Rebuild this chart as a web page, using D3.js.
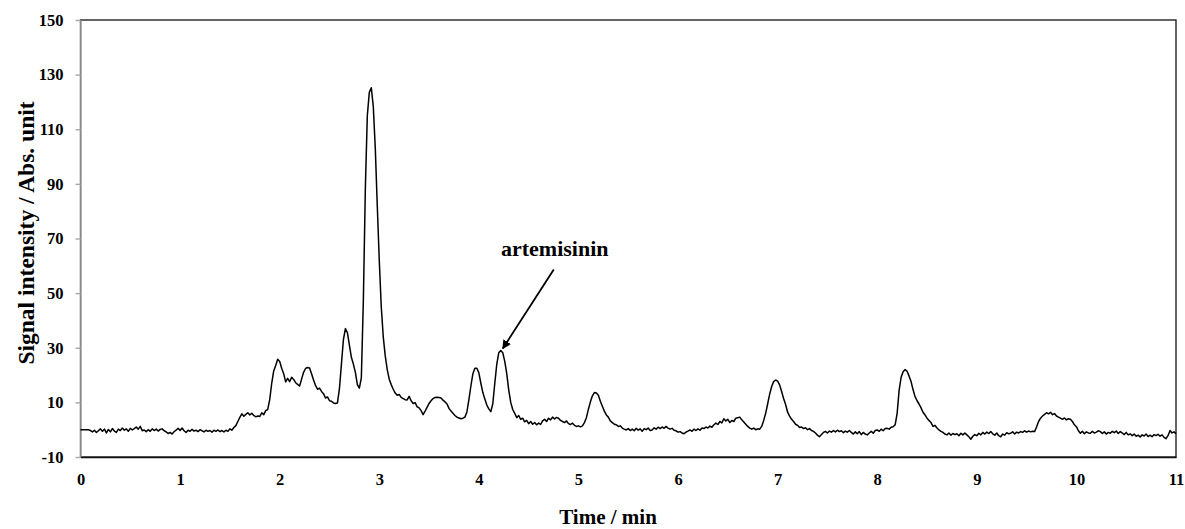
<!DOCTYPE html>
<html>
<head>
<meta charset="utf-8">
<script src="https://cdn.jsdelivr.net/npm/d3@7"></script>
<style>
  body { margin: 0; background: #fff; }
  svg { display: block; }
  text { font-family: "Liberation Serif", "Times New Roman", serif; font-weight: bold; }
</style>
</head>
<body>
<div id="chart"><svg width="1185" height="529"></svg></div>
<script>
// detector trace, one reading every 0.02 min from 0 to 11 min
const SAMPLE_STEP = 0.02;
const signal = [
  /* 0.00 */ 0, 0, 0, 0, 0, -0.3, -0.8, -0.2, -1.0, -0.4,
  /* 0.20 */ 0.3, -0.6, 0.2, -1.2, 0.1, -0.8, 0.4, -0.5, -1.0, 0.2,
  /* 0.40 */ -0.3, 0.6, -0.2, 0.3, -0.6, 0.5, -0.1, 0.4, 1.0, 0.2,
  /* 0.60 */ 1.2, -0.4, -0.1, -0.7, 0.0, -0.6, 0.3, -0.3, 0.2, -0.5,
  /* 0.80 */ 0.1, 0.3, -0.4, -0.8, -1.4, -1.0, -1.6, -0.7, -0.2, 0.5,
  /* 1.00 */ -0.3, 0.6, -0.4, -1.0, -0.2, -0.6, 0.1, -0.5, -0.2, -0.7,
  /* 1.20 */ 0.0, -0.4, -0.8, -0.2, -0.6, -0.3, -0.9, -0.2, -0.6, -0.1,
  /* 1.40 */ -0.7, -0.3, -0.8, -0.2, -0.6, 0.3, -0.2, 0.8, 1.5, 3.0,
  /* 1.60 */ 4.5, 5.8, 4.9, 5.6, 6.2, 5.4, 6.0, 5.2, 4.7, 5.0,
  /* 1.80 */ 4.8, 6.2, 5.5, 7.0, 7.4, 11.0, 17.0, 21.5, 23.5, 25.8,
  /* 2.00 */ 25.0, 22.5, 20.5, 17.5, 18.8, 17.6, 19.2, 18.4, 17.2, 16.6,
  /* 2.20 */ 16.0, 18.5, 21.0, 22.4, 22.8, 22.6, 20.5, 18.2, 16.2, 14.8,
  /* 2.40 */ 15.2, 14.0, 13.2, 11.6, 12.0, 10.6, 10.4, 9.8, 9.6, 9.8,
  /* 2.60 */ 15.0, 24.0, 33.0, 37.0, 35.5, 31.0, 26.5, 24.0, 21.0, 16.5,
  /* 2.80 */ 15.2, 19.0, 47.0, 88.0, 115.0, 123.5, 125.2, 118.3, 103.0, 82.0,
  /* 3.00 */ 62.0, 45.0, 34.0, 27.0, 22.0, 18.5, 16.5, 14.8, 13.4, 12.6,
  /* 3.20 */ 12.9, 11.8, 11.4, 11.0, 10.9, 12.2, 10.6, 9.6, 9.9, 8.4,
  /* 3.40 */ 8.0, 7.0, 5.5, 6.8, 8.2, 9.6, 10.6, 11.4, 11.8, 11.9,
  /* 3.60 */ 11.8, 11.6, 10.8, 10.2, 9.4, 7.8, 6.8, 6.0, 5.2, 4.6,
  /* 3.80 */ 4.3, 4.0, 4.2, 4.6, 6.5, 11.0, 16.0, 20.5, 22.5, 22.5,
  /* 4.00 */ 20.8, 17.0, 13.6, 11.2, 9.0, 7.6, 6.6, 9.5, 17.0, 24.0,
  /* 4.20 */ 28.2, 29.0, 28.2, 25.0, 20.5, 14.5, 10.0, 7.4, 6.0, 4.4,
  /* 4.40 */ 5.2, 3.8, 4.2, 2.9, 3.4, 2.2, 3.0, 2.0, 2.6, 1.8,
  /* 4.60 */ 2.4, 1.9, 3.2, 3.8, 3.0, 4.2, 3.6, 4.6, 3.9, 4.5,
  /* 4.80 */ 4.2, 3.4, 3.0, 2.6, 3.2, 2.2, 1.9, 2.4, 1.6, 1.2,
  /* 5.00 */ 1.4, 1.0, 1.4, 2.6, 4.4, 7.5, 10.2, 12.4, 13.6, 13.4,
  /* 5.20 */ 12.6, 10.4, 8.6, 6.8, 5.4, 4.6, 3.2, 2.6, 2.0, 1.8,
  /* 5.40 */ 1.2, 1.4, 0.6, 0.2, -0.1, 0.4, -0.3, 0.2, -0.4, 0.5,
  /* 5.60 */ -0.2, 0.3, -0.6, 0.4, 0.0, 0.6, -0.3, -0.1, 0.7, 0.2,
  /* 5.80 */ 0.9, 0.4, 1.0, 0.5, 1.2, 0.6, 0.2, 0.5, -0.2, -0.4,
  /* 6.00 */ -0.9, -0.7, -1.2, -1.5, -0.9, -0.5, -0.1, -0.6, 0.2, -0.3,
  /* 6.20 */ 0.3, -0.2, 0.6, 0.4, 1.0, 0.6, 1.3, 0.9, 1.8, 2.4,
  /* 6.40 */ 1.9, 3.0, 2.5, 4.0, 3.2, 3.8, 2.6, 3.4, 3.0, 4.2,
  /* 6.60 */ 4.4, 4.6, 3.6, 2.8, 2.0, 1.2, 0.6, 0.2, 0.6, 0.0,
  /* 6.80 */ 0.3, 0.2, 1.2, 3.4, 6.0, 9.5, 13.0, 15.8, 17.6, 18.2,
  /* 7.00 */ 17.8, 16.4, 14.0, 11.4, 9.2, 6.4, 5.0, 3.8, 3.0, 2.0,
  /* 7.20 */ 1.6, 0.8, 1.0, 0.4, 0.7, 0.0, 0.4, -0.3, -0.6, -1.2,
  /* 7.40 */ -2.0, -2.6, -1.8, -1.0, -0.6, -1.2, -0.5, -0.9, -0.3, -0.8,
  /* 7.60 */ -0.2, -0.7, -0.4, -1.1, -0.5, -0.9, -0.3, -1.0, -1.6, -0.8,
  /* 7.80 */ -1.5, -0.7, -1.8, -1.0, -1.6, -1.9, -1.2, -0.6, -1.3, -0.3,
  /* 8.00 */ -0.1, -0.6, 0.2, -0.4, 0.4, 0.5, 0.2, 0.9, 1.1, 1.8,
  /* 8.20 */ 6.0, 14.5, 19.2, 21.2, 22.0, 21.4, 19.6, 17.6, 14.6, 12.1,
  /* 8.40 */ 10.6, 9.4, 8.0, 6.4, 5.4, 4.2, 3.4, 2.6, 1.2, 1.6,
  /* 8.60 */ 0.6, -0.1, -0.6, -1.0, -1.6, -1.9, -1.2, -2.0, -1.4, -1.8,
  /* 8.80 */ -1.5, -2.2, -1.3, -1.9, -1.2, -1.9, -2.6, -3.5, -2.4, -1.8,
  /* 9.00 */ -2.2, -1.3, -1.9, -1.0, -1.6, -0.9, -1.4, -0.7, -1.5, -2.0,
  /* 9.20 */ -1.2, -2.2, -2.6, -1.6, -2.0, -1.1, -1.5, -1.3, -0.8, -1.6,
  /* 9.40 */ -0.9, -1.2, -0.7, -1.0, -0.4, -0.9, -0.5, -0.8, -0.6, -0.7,
  /* 9.60 */ 1.0, 3.0, 4.2, 5.0, 5.6, 6.2, 5.8, 6.4, 5.5, 5.9,
  /* 9.80 */ 5.0, 4.6, 4.2, 3.8, 4.3, 3.6, 4.0, 3.8, 3.0, 1.8,
  /* 10.00 */ 1.1, -0.4, -1.3, -0.6, -1.5, -0.8, -1.2, -1.3, -0.6, -1.2,
  /* 10.20 */ -0.9, -0.4, -0.7, -1.4, -0.8, -1.6, -1.0, -1.3, -0.6, -1.1,
  /* 10.40 */ -0.5, -1.4, -0.7, -1.2, -1.8, -1.0, -1.9, -1.5, -2.2, -1.6,
  /* 10.60 */ -2.4, -2.0, -2.7, -1.9, -2.3, -1.6, -2.5, -2.0, -2.6, -1.8,
  /* 10.80 */ -2.2, -1.7, -2.4, -1.9, -2.8, -3.3, -2.2, -0.3, -1.2, -0.8,
  /* 11.00 */ -1.5
];

const xTicks = [0, 1, 2, 3, 4, 5, 6, 7, 8, 9, 10, 11];
const yTicks = [-10, 10, 30, 50, 70, 90, 110, 130, 150];

const peakLabel = 'artemisinin';
const peakTime = 4.22;
const peakValue = 29;

const SVG = d3.select('#chart svg');
const SVG_WIDTH = +SVG.attr('width');
const SVG_HEIGHT = +SVG.attr('height');
const MARGIN = { top: 20, right: 9, bottom: 72, left: 80.5 };

const X_SCALE = d3.scaleLinear()
  .domain([0, 11])
  .range([MARGIN.left, SVG_WIDTH - MARGIN.right]);

const Y_SCALE = d3.scaleLinear()
  .domain([-10, 150])
  .range([SVG_HEIGHT - MARGIN.bottom, MARGIN.top]);

// plot frame
SVG.append('rect')
  .attr('x', X_SCALE(0))
  .attr('y', Y_SCALE(150))
  .attr('width', X_SCALE(11) - X_SCALE(0))
  .attr('height', Y_SCALE(-10) - Y_SCALE(150))
  .style('fill', 'none')
  .style('stroke', '#111')
  .style('stroke-width', 1.3);

// plain hyphen for negatives, like the original
const Y_AXIS = d3.axisLeft(Y_SCALE)
  .tickValues(yTicks)
  .tickSize(5)
  .tickSizeOuter(0)
  .tickPadding(12)
  .tickFormat(d => String(d));
const Y_AXIS_G = SVG.append('g')
  .attr('id', 'yAxis')
  .attr('transform', `translate(${MARGIN.left},0)`);
Y_AXIS(Y_AXIS_G);
Y_AXIS_G.select('.domain').style('stroke', '#a8a8a8').style('stroke-width', 1.6);
Y_AXIS_G.selectAll('.tick line').style('stroke', '#a8a8a8').style('stroke-width', 1.4);
Y_AXIS_G.selectAll('text').style('font-size', '16.5px').style('fill', '#000');

const X_AXIS = d3.axisBottom(X_SCALE)
  .tickValues(xTicks)
  .tickSize(0)
  .tickPadding(16)
  .tickFormat(d => String(d));
const X_AXIS_G = SVG.append('g')
  .attr('id', 'xAxis')
  .attr('transform', `translate(0,${SVG_HEIGHT - MARGIN.bottom})`);
X_AXIS(X_AXIS_G);
X_AXIS_G.select('.domain').style('stroke', '#111').style('stroke-width', 1.3);
X_AXIS_G.selectAll('text').style('font-size', '16.5px').style('fill', '#000');

// trace
SVG.append('path')
  .datum(signal)
  .attr('d', d3.line()
    .x((d, i) => X_SCALE(i * SAMPLE_STEP))
    .y(d => Y_SCALE(d)))
  .style('fill', 'none')
  .style('stroke', '#000')
  .style('stroke-width', 1.5)
  .style('stroke-linejoin', 'round');

// axis titles
SVG.append('text')
  .text('Time / min')
  .attr('x', 608)
  .attr('y', 524)
  .style('text-anchor', 'middle')
  .style('font-size', '21px');

SVG.append('text')
  .text('Signal intensity / Abs. unit')
  .attr('transform', 'translate(34,233) rotate(-90)')
  .style('text-anchor', 'middle')
  .style('font-size', '23.5px');

// annotation arrow
SVG.append('defs')
  .append('marker')
  .attr('id', 'arrowHead')
  .attr('viewBox', '0 0 10 10')
  .attr('refX', 9)
  .attr('refY', 5)
  .attr('markerWidth', 5)
  .attr('markerHeight', 5)
  .attr('markerUnits', 'strokeWidth')
  .attr('orient', 'auto')
  .append('path')
  .attr('d', 'M0,0 L10,5 L0,10 z')
  .style('fill', '#000');

const PEAK_X = X_SCALE(peakTime);
const PEAK_Y = Y_SCALE(peakValue);

SVG.append('line')
  .attr('x1', PEAK_X + 53)
  .attr('y1', PEAK_Y - 81)
  .attr('x2', PEAK_X + 2)
  .attr('y2', PEAK_Y - 2)
  .attr('marker-end', 'url(#arrowHead)')
  .style('stroke', '#000')
  .style('stroke-width', 1.8);

SVG.append('text')
  .text(peakLabel)
  .attr('x', PEAK_X + 54)
  .attr('y', PEAK_Y - 94)
  .style('text-anchor', 'middle')
  .style('font-size', '22px');
</script>
</body>
</html>
